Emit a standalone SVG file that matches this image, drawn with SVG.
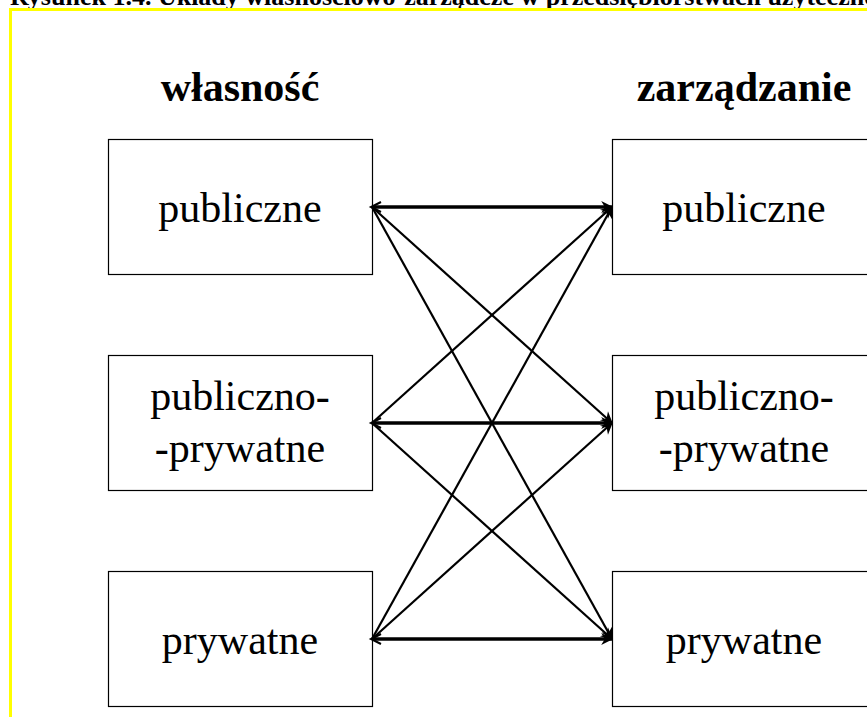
<svg xmlns="http://www.w3.org/2000/svg" width="867" height="717" viewBox="0 0 867 717">
<defs>
<style>
.box{fill:#fff;stroke:#000;stroke-width:1.2}
.t{font-family:'Liberation Serif',serif;font-size:42px;fill:#000;text-anchor:middle}
.h{font-family:'Liberation Serif',serif;font-size:42px;font-weight:bold;fill:#000;text-anchor:middle}
.thick{stroke:#000;stroke-width:3.5;fill:none}
.thin{stroke:#000;stroke-width:2.2;fill:none}
</style>
<marker id="ah" viewBox="0 0 10 10" refX="9" refY="5" markerWidth="12" markerHeight="12" markerUnits="userSpaceOnUse" orient="auto" overflow="visible">
<path d="M0,0 L10,5 L0,10 L3,5 Z" fill="#000"/>
</marker>
<marker id="ahs" viewBox="0 0 10 10" refX="1" refY="5" markerWidth="10" markerHeight="10" markerUnits="userSpaceOnUse" orient="auto" overflow="visible">
<path d="M10,0 L0,5 L10,10" fill="none" stroke="#000" stroke-width="2"/>
</marker>
</defs>
<rect width="867" height="717" fill="#fff"/>
<text x="10" y="5" font-family="'Liberation Serif',serif" font-size="26" font-weight="bold" fill="#000">Rysunek 1.4. Układy własnościowo-zarządcze w przedsiębiorstwach użyteczności publicznej</text>
<path d="M10.5,730 L10.5,9.5 L880,9.5" fill="none" stroke="#ffff00" stroke-width="3"/>
<g id="headings">
<text class="h" x="240" y="101">własność</text>
<text class="h" x="744" y="101">zarządzanie</text>
</g>
<g id="own-public"><rect class="box" x="108.5" y="139.5" width="264" height="135"/><text class="t" x="240" y="222">publiczne</text></g>
<g id="own-pp"><rect class="box" x="108.5" y="355.5" width="264" height="135"/><text class="t" x="240" y="410">publiczno-</text><text class="t" x="240" y="462">-prywatne</text></g>
<g id="own-private"><rect class="box" x="108.5" y="571.5" width="264" height="135"/><text class="t" x="240" y="654">prywatne</text></g>
<g id="mgmt-public"><rect class="box" x="612.5" y="139.5" width="264" height="135"/><text class="t" x="744" y="222">publiczne</text></g>
<g id="mgmt-pp"><rect class="box" x="612.5" y="355.5" width="264" height="135"/><text class="t" x="744" y="410">publiczno-</text><text class="t" x="744" y="462">-prywatne</text></g>
<g id="mgmt-private"><rect class="box" x="612.5" y="571.5" width="264" height="135"/><text class="t" x="744" y="654">prywatne</text></g>
<g id="connectors">
<line class="thick" x1="372" y1="207" x2="612" y2="207" marker-end="url(#ah)" marker-start="url(#ahs)"/>
<line class="thick" x1="372" y1="423" x2="612" y2="423" marker-end="url(#ah)" marker-start="url(#ahs)"/>
<line class="thick" x1="372" y1="639" x2="612" y2="639" marker-end="url(#ah)" marker-start="url(#ahs)"/>
<line class="thin" x1="372" y1="207" x2="612" y2="423" marker-end="url(#ah)"/>
<line class="thin" x1="372" y1="207" x2="612" y2="639" marker-end="url(#ah)"/>
<line class="thin" x1="372" y1="423" x2="612" y2="207" marker-end="url(#ah)"/>
<line class="thin" x1="372" y1="423" x2="612" y2="639" marker-end="url(#ah)"/>
<line class="thin" x1="372" y1="639" x2="612" y2="207" marker-end="url(#ah)"/>
<line class="thin" x1="372" y1="639" x2="612" y2="423" marker-end="url(#ah)"/>
</g>
</svg>
